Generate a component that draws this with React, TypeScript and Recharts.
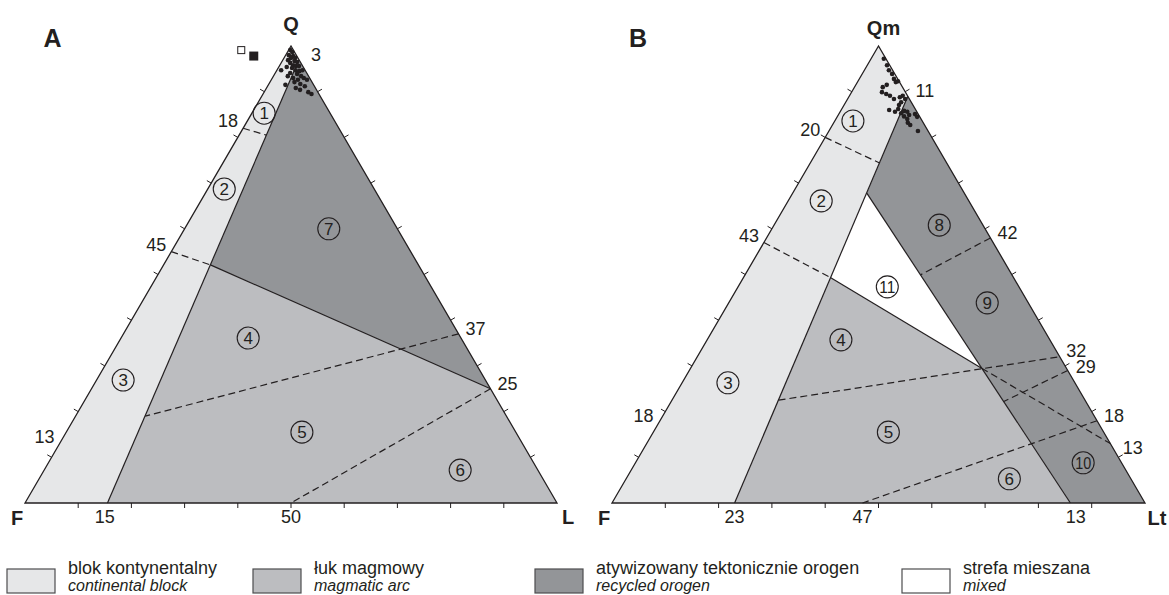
import React from 'react';
import { ScatterChart, Scatter, XAxis, YAxis } from 'recharts';

type TP = { q: number; l: number };
type EdgeLabel = TP & { text: string; edge: 'left' | 'right' | 'bottom' };
type FieldNo = TP & { n: string };
type VertexLabel = TP & { text: string };
type Marker = TP & { kind: 'open' | 'filled' };

// q = apex component (Q / Qm), l = right-vertex component (L / Lt), f = 100 - q - l
const tickValues = [10, 20, 30, 40, 50, 60, 70, 80, 90];

// ---------------- Diagram A : Q - F - L ----------------
const aContinental: TP[] = [{ q: 100, l: 0 }, { q: 0, l: 0 }, { q: 0, l: 15.5 }, { q: 97, l: 3 }];
const aMagmaticArc: TP[] = [{ q: 0, l: 15.5 }, { q: 52.1, l: 8.8 }, { q: 25, l: 75 }, { q: 0, l: 100 }];
const aRecycledOrogen: TP[] = [{ q: 97, l: 3 }, { q: 52.1, l: 8.8 }, { q: 25, l: 75 }];
const aSolidLines: TP[][] = [
  [{ q: 0, l: 15.5 }, { q: 97, l: 3 }],
  [{ q: 52.1, l: 8.8 }, { q: 25, l: 75 }],
];
const aDashedLines: TP[][] = [
  [{ q: 82, l: 0 }, { q: 80.5, l: 5.1 }],
  [{ q: 55, l: 0 }, { q: 52.1, l: 8.8 }],
  [{ q: 37, l: 63 }, { q: 19, l: 13.1 }],
  [{ q: 25, l: 75 }, { q: 0, l: 50 }],
];
const aFieldNumbers: FieldNo[] = [
  { n: '1', q: 85.3, l: 2.3 },
  { n: '2', q: 68.7, l: 3.1 },
  { n: '3', q: 26.9, l: 5.0 },
  { n: '4', q: 36.1, l: 23.9 },
  { n: '5', q: 15.5, l: 44.3 },
  { n: '6', q: 7.2, l: 78.2 },
  { n: '7', q: 60.0, l: 27.1 },
];
const aSamples: TP[] = [
  { q: 99.1, l: 0.3 }, { q: 98.7, l: 0.9 }, { q: 98.0, l: 0.6 }, { q: 97.8, l: 1.5 }, { q: 97.4, l: 1.3 },
  { q: 97.4, l: 2.1 }, { q: 96.9, l: 1.0 }, { q: 96.7, l: 2.3 }, { q: 96.5, l: 2.9 }, { q: 96.3, l: 1.7 },
  { q: 95.8, l: 2.5 }, { q: 95.6, l: 3.1 }, { q: 95.6, l: 3.7 }, { q: 95.4, l: 1.5 }, { q: 95.2, l: 2.6 },
  { q: 94.7, l: 3.5 }, { q: 94.5, l: 4.3 }, { q: 94.7, l: 4.8 }, { q: 94.7, l: 0.8 }, { q: 94.1, l: 2.8 },
  { q: 93.9, l: 4.2 }, { q: 93.4, l: 5.2 }, { q: 93.0, l: 3.9 }, { q: 93.0, l: 5.9 }, { q: 92.6, l: 6.7 },
  { q: 91.5, l: 3.2 }, { q: 90.8, l: 5.5 }, { q: 91.7, l: 5.9 }, { q: 91.2, l: 7.0 }, { q: 89.5, l: 9.1 },
  { q: 89.9, l: 8.3 }, { q: 93.4, l: 2.7 }, { q: 92.6, l: 5.0 }, { q: 92.1, l: 4.6 }, { q: 90.4, l: 6.5 },
];
const aEdgeLabels: EdgeLabel[] = [
  { text: '3', edge: 'right', q: 97, l: 3 },
  { text: '18', edge: 'left', q: 82, l: 0 },
  { text: '45', edge: 'left', q: 55, l: 0 },
  { text: '37', edge: 'right', q: 37, l: 63 },
  { text: '25', edge: 'right', q: 25, l: 75 },
  { text: '13', edge: 'left', q: 13, l: 0 },
  { text: '15', edge: 'bottom', q: 0, l: 15 },
  { text: '50', edge: 'bottom', q: 0, l: 50 },
];
const aVertexLabels: VertexLabel[] = [
  { text: 'Q', q: 100, l: 0 },
  { text: 'F', q: 0, l: 0 },
  { text: 'L', q: 0, l: 100 },
];
const aMarkers: Marker[] = [
  { kind: 'open', q: 99.1, l: -8.9 },
  { kind: 'filled', q: 97.8, l: -5.9 },
];

// ---------------- Diagram B : Qm - F - Lt ----------------
const bContinental: TP[] = [{ q: 100, l: 0 }, { q: 0, l: 0 }, { q: 0, l: 23 }, { q: 89, l: 11 }];
const bMagmaticArc: TP[] = [{ q: 0, l: 23 }, { q: 49.3, l: 16.4 }, { q: 29.5, l: 54.6 }, { q: 0, l: 86 }];
const bRecycledOrogen: TP[] = [{ q: 89, l: 11 }, { q: 67.8, l: 13.9 }, { q: 0, l: 86 }, { q: 0, l: 100 }];
const bMixed: TP[] = [{ q: 67.8, l: 13.9 }, { q: 49.3, l: 16.4 }, { q: 29.5, l: 54.6 }];
const bSolidLines: TP[][] = [
  [{ q: 0, l: 23 }, { q: 89, l: 11 }],
  [{ q: 67.8, l: 13.9 }, { q: 0, l: 86 }],
  [{ q: 49.3, l: 16.4 }, { q: 29.5, l: 54.6 }],
];
const bDashedLines: TP[][] = [
  [{ q: 80, l: 0 }, { q: 74.4, l: 13.0 }],
  [{ q: 57, l: 0 }, { q: 49.3, l: 16.4 }],
  [{ q: 58, l: 42 }, { q: 49.9, l: 32.9 }],
  [{ q: 22.5, l: 20.0 }, { q: 32, l: 68 }],
  [{ q: 29, l: 71 }, { q: 22.2, l: 62.4 }],
  [{ q: 18, l: 82 }, { q: 0, l: 47 }],
  [{ q: 29.5, l: 54.6 }, { q: 13, l: 87 }],
];
const bFieldNumbers: FieldNo[] = [
  { n: '1', q: 83.6, l: 3.4 },
  { n: '2', q: 66.1, l: 6.2 },
  { n: '3', q: 26.3, l: 8.6 },
  { n: '4', q: 35.7, l: 25.1 },
  { n: '5', q: 15.5, l: 44.1 },
  { n: '6', q: 5.3, l: 71.9 },
  { n: '8', q: 60.8, l: 31.0 },
  { n: '9', q: 43.8, l: 48.5 },
  { n: '10', q: 8.8, l: 84.0 },
  { n: '11', q: 47.3, l: 28.0 },
];
const bSamples: TP[] = [
  { q: 97.2, l: 2.4 }, { q: 95.8, l: 3.7 }, { q: 94.7, l: 4.6 }, { q: 93.9, l: 5.6 }, { q: 92.8, l: 6.5 },
  { q: 92.1, l: 7.2 }, { q: 92.3, l: 7.5 }, { q: 91.5, l: 5.8 }, { q: 91.0, l: 5.3 }, { q: 89.9, l: 5.7 },
  { q: 89.5, l: 6.7 }, { q: 89.1, l: 7.6 }, { q: 88.4, l: 8.7 }, { q: 88.8, l: 9.6 }, { q: 89.1, l: 10.0 },
  { q: 88.4, l: 10.8 }, { q: 87.7, l: 10.4 }, { q: 87.1, l: 10.3 }, { q: 86.0, l: 9.0 }, { q: 85.6, l: 10.3 },
  { q: 86.2, l: 10.6 }, { q: 85.3, l: 11.6 }, { q: 85.8, l: 11.9 }, { q: 85.6, l: 12.6 }, { q: 84.9, l: 13.3 },
  { q: 84.0, l: 13.4 }, { q: 85.1, l: 14.3 }, { q: 84.5, l: 15.0 }, { q: 83.2, l: 13.9 }, { q: 82.7, l: 14.6 },
  { q: 81.4, l: 16.7 }, { q: 84.6, l: 12.5 },
];
const bEdgeLabels: EdgeLabel[] = [
  { text: '11', edge: 'right', q: 89, l: 11 },
  { text: '20', edge: 'left', q: 80, l: 0 },
  { text: '43', edge: 'left', q: 57, l: 0 },
  { text: '42', edge: 'right', q: 58, l: 42 },
  { text: '32', edge: 'right', q: 32.2, l: 67.8 },
  { text: '29', edge: 'right', q: 28.6, l: 71.4 },
  { text: '18', edge: 'right', q: 18, l: 82 },
  { text: '13', edge: 'right', q: 11, l: 89 },
  { text: '18', edge: 'left', q: 17.5, l: 0 },
  { text: '23', edge: 'bottom', q: 0, l: 23 },
  { text: '47', edge: 'bottom', q: 0, l: 47 },
  { text: '13', edge: 'bottom', q: 0, l: 87 },
];
const bVertexLabels: VertexLabel[] = [
  { text: 'Qm', q: 100, l: 0 },
  { text: 'F', q: 0, l: 0 },
  { text: 'Lt', q: 0, l: 100 },
];

// ---------------- Legend ----------------
const legendPolish = ['blok kontynentalny', 'łuk magmowy', 'atywizowany tektonicznie orogen', 'strefa mieszana'];
const legendEnglish = ['continental block', 'magmatic arc', 'recycled orogen', 'mixed'];

// ---------------- Styles ----------------
const INK = '#231f20';
const FONT = '"Liberation Sans", Arial, Helvetica, sans-serif';
const C_CONT = '#e6e7e8';
const C_ARC = '#bcbdc0';
const C_REC = '#939598';
const C_MIX = '#ffffff';
const legendColors = [C_CONT, C_ARC, C_REC, C_MIX];
const legendLeft = [7, 253, 535, 902];

const EDGE_OFFSET: Record<string, [number, number]> = { left: [-15, -7], right: [17, -5], bottom: [0, 14] };
const TICK_DIR: Record<string, [number, number]> = { left: [-0.866, -0.5], right: [0.866, -0.5], bottom: [0, 1] };
const VERTEX_OFFSET: Record<string, [number, number]> = {
  Q: [0, -22], Qm: [5, -18], F: [-8, 15], L: [11, 14], Lt: [12, 15],
};

const xy = (p: TP) => ({ x: p.l + p.q / 2, y: p.q });
const blank = () => <g />;
const ptsAttr = (pts: { x: number; y: number }[]) => pts.map((p) => `${p.x},${p.y}`).join(' ');

function areaSeries(key: string, pts: TP[], fill: string) {
  return (
    <Scatter
      key={key}
      data={pts.map(xy)}
      isAnimationActive={false}
      shape={blank}
      line={(props: any) => <polygon points={ptsAttr(props.points)} fill={fill} stroke="none" />}
    />
  );
}

function lineSeries(key: string, pts: TP[], width: number, dash?: string, closed?: boolean) {
  return (
    <Scatter
      key={key}
      data={pts.map(xy)}
      isAnimationActive={false}
      shape={blank}
      line={(props: any) =>
        closed ? (
          <polygon points={ptsAttr(props.points)} fill="none" stroke={INK} strokeWidth={width} />
        ) : (
          <polyline points={ptsAttr(props.points)} fill="none" stroke={INK} strokeWidth={width} strokeDasharray={dash} />
        )
      }
    />
  );
}

function tickSeries(key: string) {
  const data = [
    ...tickValues.map((v) => ({ ...xy({ q: v, l: 0 }), edge: 'left' })),
    ...tickValues.map((v) => ({ ...xy({ q: v, l: 100 - v }), edge: 'right' })),
    ...tickValues.map((v) => ({ ...xy({ q: 0, l: v }), edge: 'bottom' })),
  ];
  return (
    <Scatter
      key={key}
      data={data}
      isAnimationActive={false}
      shape={(p: any) => {
        const d = TICK_DIR[p.payload.edge];
        return <line x1={p.cx} y1={p.cy} x2={p.cx + d[0] * 5} y2={p.cy + d[1] * 5} stroke={INK} strokeWidth={1} />;
      }}
    />
  );
}

function Panel({
  left, rightMargin, fills, solid, dashed, numbers, samples, edgeLabels, vertexLabels, markers,
}: {
  left: number; rightMargin: number; fills: [TP[], string][]; solid: TP[][]; dashed: TP[][];
  numbers: FieldNo[]; samples: TP[]; edgeLabels: EdgeLabel[]; vertexLabels: VertexLabel[]; markers: Marker[];
}) {
  return (
    <div style={{ position: 'absolute', left, top: 0 }}>
      <ScatterChart width={600} height={540} margin={{ top: 46, right: rightMargin, bottom: 37, left: 25 }}>
        <XAxis type="number" dataKey="x" domain={[0, 100]} hide />
        <YAxis type="number" dataKey="y" domain={[0, 100]} hide />
        {fills.map(([pts, c], i) => areaSeries(`fill${i}`, pts, c))}
        {dashed.map((pts, i) => lineSeries(`dash${i}`, pts, 1.2, '7 4'))}
        {solid.map((pts, i) => lineSeries(`solid${i}`, pts, 1.2))}
        {lineSeries('outline', [{ q: 100, l: 0 }, { q: 0, l: 0 }, { q: 0, l: 100 }], 1.3, undefined, true)}
        {tickSeries('ticks')}
        <Scatter
          data={numbers.map((n) => ({ ...xy(n), n: n.n }))}
          isAnimationActive={false}
          shape={(p: any) => {
            const two = p.payload.n.length > 1;
            return (
              <g>
                <circle cx={p.cx} cy={p.cy} r={11} fill="none" stroke={INK} strokeWidth={1.1} />
                <text x={p.cx} y={p.cy + 0.5} textAnchor="middle" dominantBaseline="central" fontFamily={FONT}
                  fontSize={17} fill={INK} {...(two ? { textLength: 16, lengthAdjust: 'spacingAndGlyphs' } : {})}>
                  {p.payload.n}
                </text>
              </g>
            );
          }}
        />
        <Scatter
          data={samples.map(xy)}
          isAnimationActive={false}
          shape={(p: any) => <circle cx={p.cx} cy={p.cy} r={2.3} fill={INK} />}
        />
        <Scatter
          data={markers.map((m) => ({ ...xy(m), kind: m.kind }))}
          isAnimationActive={false}
          shape={(p: any) =>
            p.payload.kind === 'open' ? (
              <rect x={p.cx - 3.5} y={p.cy - 3.5} width={7} height={7} fill="#fff" stroke={INK} strokeWidth={1} />
            ) : (
              <rect x={p.cx - 4.5} y={p.cy - 4.5} width={9} height={9} fill={INK} />
            )
          }
        />
        <Scatter
          data={edgeLabels.map((e) => ({ ...xy(e), text: e.text, edge: e.edge }))}
          isAnimationActive={false}
          shape={(p: any) => {
            const o = EDGE_OFFSET[p.payload.edge];
            return (
              <text x={p.cx + o[0]} y={p.cy + o[1]} textAnchor="middle" dominantBaseline="central"
                fontFamily={FONT} fontSize={18} fill={INK}>
                {p.payload.text}
              </text>
            );
          }}
        />
        <Scatter
          data={vertexLabels.map((v) => ({ ...xy(v), text: v.text }))}
          isAnimationActive={false}
          shape={(p: any) => {
            const o = VERTEX_OFFSET[p.payload.text];
            return (
              <text x={p.cx + o[0]} y={p.cy + o[1]} textAnchor="middle" dominantBaseline="central"
                fontFamily={FONT} fontSize={20} fontWeight="bold" fill={INK}>
                {p.payload.text}
              </text>
            );
          }}
        />
      </ScatterChart>
    </div>
  );
}

export default function App() {
  return (
    <div style={{ position: 'absolute', left: 0, top: 0, width: 1169, height: 595, background: '#fff', overflow: 'hidden' }}>
      <Panel
        left={0}
        rightMargin={43}
        fills={[[aContinental, C_CONT], [aMagmaticArc, C_ARC], [aRecycledOrogen, C_REC]]}
        solid={aSolidLines}
        dashed={aDashedLines}
        numbers={aFieldNumbers}
        samples={aSamples}
        edgeLabels={aEdgeLabels}
        vertexLabels={aVertexLabels}
        markers={aMarkers}
      />
      <Panel
        left={587}
        rightMargin={42}
        fills={[[bContinental, C_CONT], [bMagmaticArc, C_ARC], [bRecycledOrogen, C_REC], [bMixed, C_MIX]]}
        solid={bSolidLines}
        dashed={bDashedLines}
        numbers={bFieldNumbers}
        samples={bSamples}
        edgeLabels={bEdgeLabels}
        vertexLabels={bVertexLabels}
        markers={[]}
      />
      <svg width={1169} height={595} style={{ position: 'absolute', left: 0, top: 0, pointerEvents: 'none' }}>
        <text x={52.5} y={37.5} textAnchor="middle" dominantBaseline="central" fontFamily={FONT} fontSize={25} fontWeight="bold" fill={INK}>A</text>
        <text x={638} y={37.5} textAnchor="middle" dominantBaseline="central" fontFamily={FONT} fontSize={25} fontWeight="bold" fill={INK}>B</text>
        {legendPolish.map((t, i) => (
          <g key={t}>
            <rect x={legendLeft[i]} y={569} width={48} height={24} fill={legendColors[i]} stroke="#4d4d4f" strokeWidth={1.2} />
            <text x={legendLeft[i] + 61} y={574} fontFamily={FONT} fontSize={18} fill={INK}>{t}</text>
            <text x={legendLeft[i] + 61} y={591} fontFamily={FONT} fontSize={16} fontStyle="italic" fill={INK}>{legendEnglish[i]}</text>
          </g>
        ))}
      </svg>
    </div>
  );
}
